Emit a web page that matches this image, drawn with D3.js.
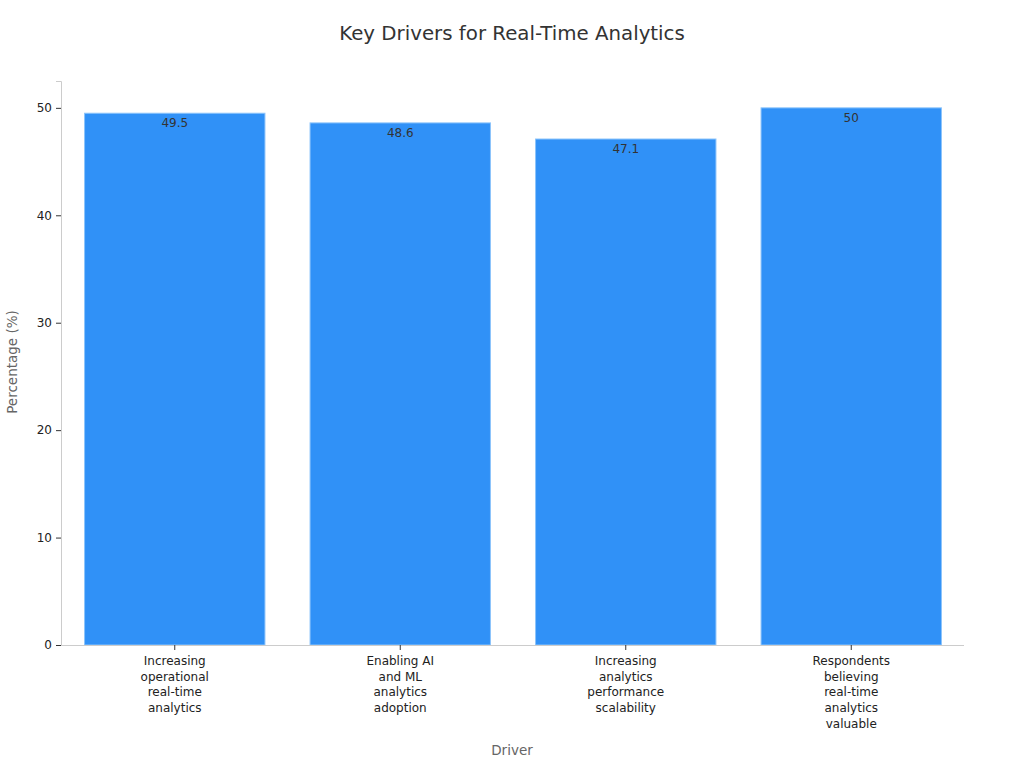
<!DOCTYPE html>
<html><head><meta charset="utf-8">
<script src="https://cdn.jsdelivr.net/npm/d3@7"></script>
<style>body{margin:0;background:#fff;font-family:"DejaVu Sans",sans-serif;}</style>
</head><body><svg id="c" width="1024" height="768"></svg>
<script>
const categories = [
  ["Increasing","operational","real-time","analytics"],
  ["Enabling AI","and ML","analytics","adoption"],
  ["Increasing","analytics","performance","scalability"],
  ["Respondents","believing","real-time","analytics","valuable"]
];
const values = [49.5, 48.6, 47.1, 50];
const yTicks = [0, 10, 20, 30, 40, 50];

const svg = d3.select("#c");
const m = {l: 61, r: 964, t: 81, b: 645};
const keys = categories.map((d,i)=>i);
const x = d3.scaleBand().domain(keys).range([m.l+1, m.r]).paddingInner(0.2).paddingOuter(0.1);
const y = d3.scaleLinear().domain([0, 52.5]).range([m.b, m.t]);

svg.append("text").attr("x", 512).attr("y", 40).attr("text-anchor","middle")
  .attr("font-size", 19.8).attr("fill","#333").text("Key Drivers for Real-Time Analytics");

svg.selectAll("rect.bar").data(values).join("rect").attr("class","bar")
  .attr("x",(d,i)=>x(i)).attr("width",x.bandwidth())
  .attr("y",d=>y(d)).attr("height",d=>y(0)-y(d))
  .attr("fill","#3091f7").attr("stroke","#8cc4fb").attr("stroke-width",1);

svg.selectAll("text.val").data(values).join("text").attr("class","val")
  .attr("x",(d,i)=>x(i)+x.bandwidth()/2).attr("y",d=>y(d)+14)
  .attr("text-anchor","middle").attr("font-size",12).attr("fill","#333")
  .text(d=>d);

// y axis
const ya = svg.append("g").attr("transform",`translate(${m.l},0)`)
  .call(d3.axisLeft(y).tickValues(yTicks).tickSize(5).tickPadding(4));
ya.select(".domain").attr("stroke","#ccc");
ya.selectAll(".tick line").attr("stroke","#333");
ya.selectAll(".tick text").attr("font-size",12).attr("fill","#222").attr("font-family","DejaVu Sans");

// x axis
const xa = svg.append("g").attr("transform",`translate(0,${m.b})`)
  .call(d3.axisBottom(x).tickSize(5).tickFormat(""));
xa.select(".domain").attr("stroke","#ccc").attr("d",`M${m.l},0.5H${m.r}`);
xa.selectAll(".tick line").attr("stroke","#333");
xa.selectAll(".tick").each(function(d){
  const t = d3.select(this).append("text").attr("fill","#222").attr("font-size",12)
    .attr("text-anchor","middle").attr("font-family","DejaVu Sans");
  categories[d].forEach((ln,j)=>t.append("tspan").attr("x",0).attr("y",20+j*15.7).text(ln));
});

svg.append("text").attr("x",512).attr("y",755).attr("text-anchor","middle")
  .attr("font-size",13.5).attr("fill","#666").text("Driver");
svg.append("text").attr("transform","translate(17,362) rotate(-90)").attr("text-anchor","middle")
  .attr("font-size",13.5).attr("fill","#666").text("Percentage (%)");
</script></body></html>
